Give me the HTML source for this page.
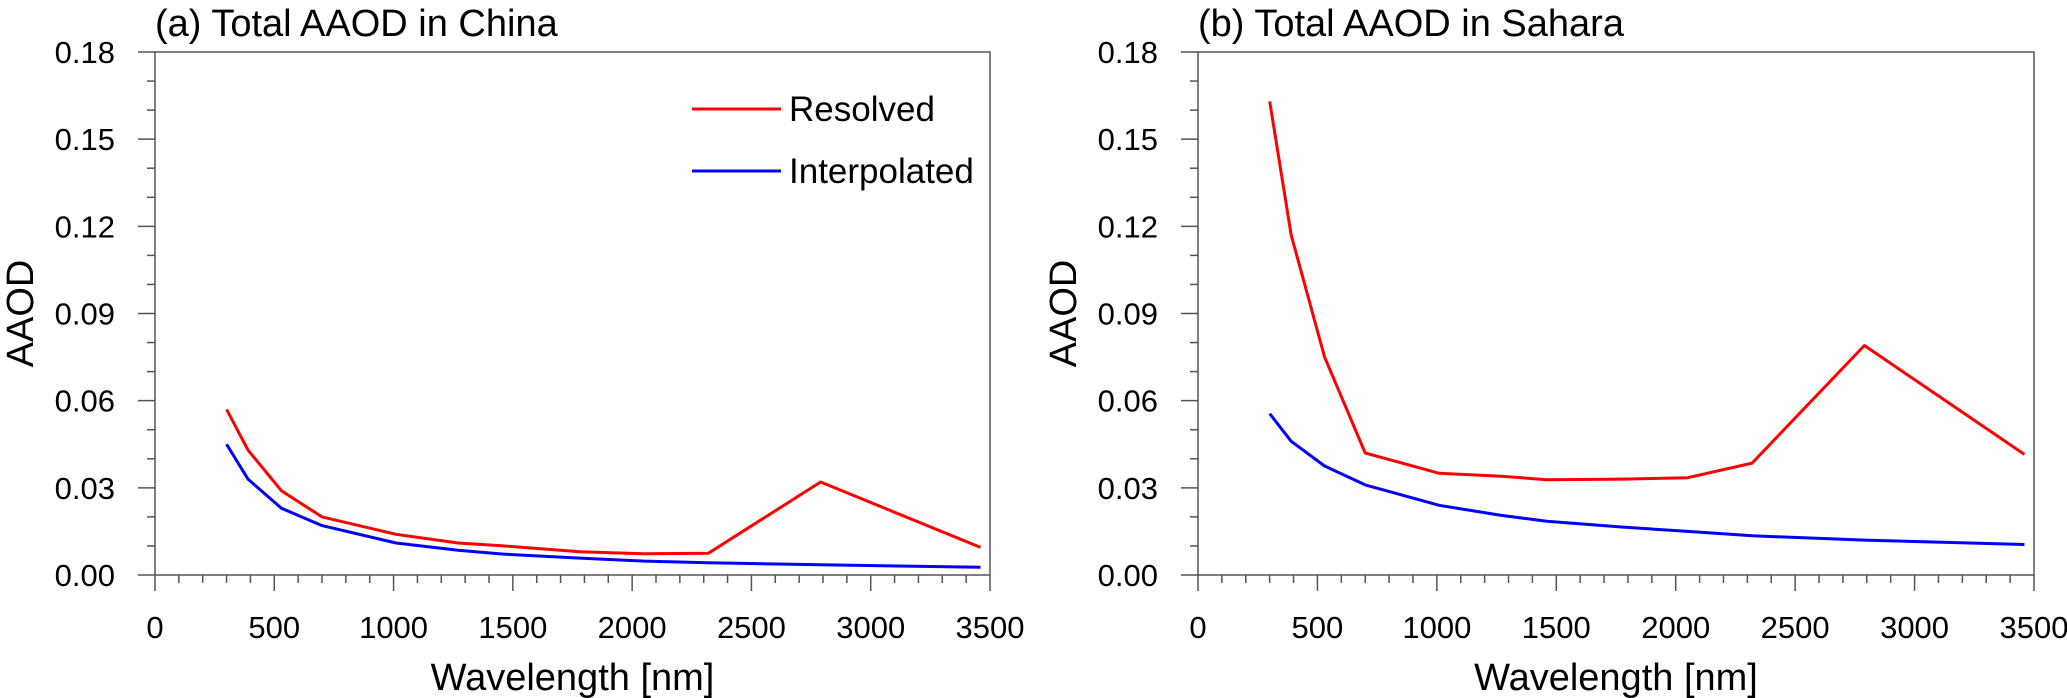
<!DOCTYPE html>
<html><head><meta charset="utf-8"><style>
html,body{margin:0;padding:0;background:#fff;}
svg{display:block;font-family:"Liberation Sans",Arial,sans-serif;}
</style></head><body>
<svg id="chart" width="2067" height="698" viewBox="0 0 2067 698" xmlns="http://www.w3.org/2000/svg"></svg>
<script>
const wavelengths=[300,390,530,700,1010,1270,1460,1780,2050,2320,2790,3460];
const chinaResolved=[0.057,0.043,0.029,0.020,0.014,0.011,0.010,0.008,0.0073,0.0075,0.032,0.0095];
const chinaInterp=[0.045,0.033,0.023,0.017,0.011,0.0085,0.0072,0.0058,0.0048,0.0042,0.0035,0.0027];
const saharaResolved=[0.163,0.117,0.075,0.042,0.035,0.034,0.0328,0.033,0.0335,0.0385,0.079,0.0415];
const saharaInterp=[0.0555,0.046,0.0375,0.031,0.024,0.0205,0.0185,0.0165,0.015,0.0135,0.012,0.0105];
const yTicks=["0.00","0.03","0.06","0.09","0.12","0.15","0.18"];
const xTicks=["0","500","1000","1500","2000","2500","3000","3500"];
const titles=["(a) Total AAOD in China","(b) Total AAOD in Sahara"];

const NS="http://www.w3.org/2000/svg";
const svg=document.getElementById('chart');
function mk(tag,attrs,parent){const e=document.createElementNS(NS,tag);for(const k in attrs)e.setAttribute(k,attrs[k]);(parent||svg).appendChild(e);return e;}

const panels=[{x0:155,x1:990,res:chinaResolved,intp:chinaInterp,key:'china'},{x0:1198,x1:2034,res:saharaResolved,intp:saharaInterp,key:'sahara'}];
const yTop=52,yBot=575;
panels.forEach((p,i)=>{
  const g=mk('g',{});
  
  
  const sx=v=>p.x0+(v/3500)*(p.x1-p.x0);
  const sy=v=>yBot-(v/0.18)*(yBot-yTop);
  const fr=mk('rect',{x:p.x0,y:yTop,width:p.x1-p.x0,height:yBot-yTop,fill:'none',stroke:'#555','stroke-width':1.5},g);
  
  
  for(let k=0;k<=35;k++){const v=k*100,x=sx(v),maj=k%5==0;
    mk('line',{x1:x,x2:x,y1:yBot,y2:yBot+(maj?16:8),stroke:'#555','stroke-width':1.5},g);}
  xTicks.forEach(t=>{const tx=mk('text',{x:sx(+t),y:638,'font-size':31,'text-anchor':'middle'},g);tx.textContent=t;
    
    });
  for(let k=0;k<=18;k++){const v=k*0.01,y=sy(v),maj=k%3==0;
    mk('line',{x1:p.x0,x2:p.x0-(maj?17:8),y1:y,y2:y,stroke:'#555','stroke-width':1.5},g);}
  yTicks.forEach(t=>{const ty=mk('text',{x:p.x0-40,y:sy(+t)+11,'font-size':31,'text-anchor':'end'},g);ty.textContent=t;
    
    });
  const xt=mk('text',{x:(p.x0+p.x1)/2,y:690,'font-size':38,'text-anchor':'middle'},g);xt.textContent='Wavelength [nm]';
  
  
  const yx=p.x0-122,yc=(yTop+yBot)/2;
  const yt=mk('text',{x:yx,y:yc,'font-size':38,'text-anchor':'middle',transform:`rotate(-90 ${yx} ${yc})`},g);yt.textContent='AAOD';
  
  
  const tt=mk('text',{x:p.x0,y:36,'font-size':38},g);tt.textContent=titles[i];
  
  
  const mkLine=(vals,col,name)=>{const pts=wavelengths.map((w,j)=>sx(w).toFixed(1)+','+sy(vals[j]).toFixed(1)).join(' ');
    const l=mk('polyline',{points:pts,fill:'none',stroke:col,'stroke-width':3,'stroke-linejoin':'round'},g);
    
    };
  mkLine(p.intp,'#0000ff','interpolated-line');
  mkLine(p.res,'#ff0000','resolved-line');
});
const lg=mk('g',{});


[['Resolved','#ff0000',109],['Interpolated','#0000ff',171]].forEach(([t,c,y])=>{
  const e=mk('g',{},lg);
  
  
  mk('line',{x1:692,x2:781,y1:y,y2:y,stroke:c,'stroke-width':3},e);
  const tx=mk('text',{x:789,y:y+12,'font-size':35},e);tx.textContent=t;
});
</script>
</body></html>
